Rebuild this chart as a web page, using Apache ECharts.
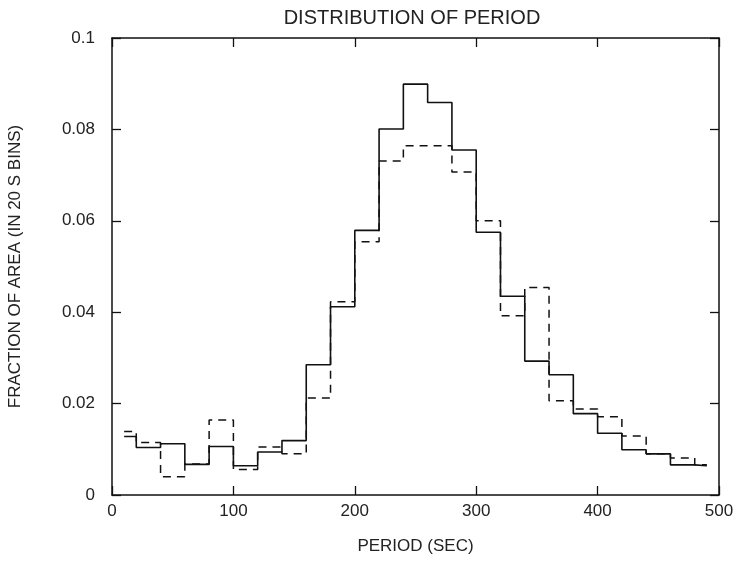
<!DOCTYPE html>
<html><head><meta charset="utf-8">
<script src="https://cdn.jsdelivr.net/npm/echarts@6/dist/echarts.min.js"></script>
<style>html,body{margin:0;padding:0;background:#fff}#c{width:740px;height:562px}</style>
</head><body><div id="c"></div>
<script>
// bin edges (sec)
var binEdges = [10,20,40,60,80,100,120,140,160,180,200,220,240,260,280,300,320,340,360,380,400,420,440,460,480,490];
// solid histogram: fraction per bin
var solidValues = [0.0128,0.0104,0.0112,0.0067,0.0106,0.0064,0.0094,0.0119,0.0285,0.0412,0.0579,0.0801,0.0899,0.0859,0.0755,0.0575,0.0435,0.0293,0.0263,0.0178,0.0135,0.0099,0.0090,0.0066,0.0064];
// dashed histogram
var dashedValues = [0.0139,0.0115,0.0040,0.0068,0.0164,0.0056,0.0105,0.0090,0.0212,0.0423,0.0554,0.0731,0.0764,0.0764,0.0707,0.0600,0.0392,0.0454,0.0206,0.0188,0.0171,0.0129,0.0090,0.0081,0.0066];
var xTicks = [0,100,200,300,400,500];
var yTicks = [0,0.02,0.04,0.06,0.08,0.1];

function steps(vals){
  var d = [];
  for (var i=0;i<vals.length;i++) d.push([binEdges[i], vals[i]]);
  d.push([binEdges[binEdges.length-1], vals[vals.length-1]]);
  return d;
}
var font = 'Liberation Sans';
var txt = '#222';
var chart = echarts.init(document.getElementById('c'));
var axLine = {show:true, onZero:false, lineStyle:{color:'#111', width:1.5}};
var tick = {show:true, inside:true, length:9, lineStyle:{color:'#111', width:1.3}};
chart.setOption({
  animation:false,
  title:{text:'DISTRIBUTION OF PERIOD', left:407, top:3, textAlign:'center',
    textStyle:{fontFamily:font, fontWeight:'normal', fontSize:20, color:txt}},
  grid:{left:112, right:21, top:38, bottom:67, containLabel:false, outerBoundsMode:'none'},
  xAxis:[{type:'value', min:0, max:500, interval:100, position:'bottom',
    name:'PERIOD (SEC)', nameLocation:'middle', nameGap:43,
    nameTextStyle:{fontFamily:font, fontSize:17, color:txt},
    axisLine:axLine, axisTick:tick, splitLine:{show:false},
    axisLabel:{fontFamily:font, fontSize:17, color:txt, margin:8}},
   {type:'value', min:0, max:500, interval:100, position:'top',
    axisLine:axLine, axisTick:tick, splitLine:{show:false}, axisLabel:{show:false}}],
  yAxis:[{type:'value', min:0, max:0.1, interval:0.02, position:'left',
    name:'FRACTION OF AREA (IN 20 S BINS)', nameLocation:'middle', nameGap:88,
    nameTextStyle:{fontFamily:font, fontSize:17, color:txt},
    axisLine:axLine, axisTick:tick, splitLine:{show:false},
    axisLabel:{fontFamily:font, fontSize:17, color:txt, margin:17,
      formatter:function(v){return String(+v.toFixed(2));}}},
   {type:'value', min:0, max:0.1, interval:0.02, position:'right',
    axisLine:axLine, axisTick:tick, splitLine:{show:false}, axisLabel:{show:false}}],
  series:[
    {type:'line', step:'end', data:steps(dashedValues), symbol:'none',
     lineStyle:{color:'#111', width:1.5, type:[8,6]}},
    {type:'line', step:'end', data:steps(solidValues), symbol:'none',
     lineStyle:{color:'#111', width:1.6}}
  ]
});
</script></body></html>
